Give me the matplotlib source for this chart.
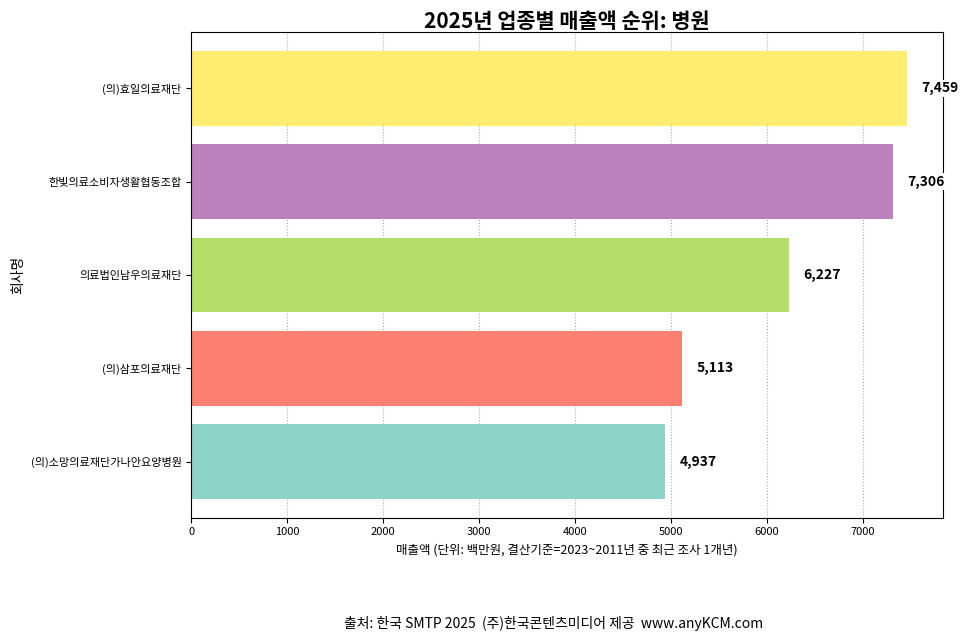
import matplotlib
matplotlib.use("Agg")
import matplotlib.pyplot as plt

plt.rcParams["font.family"] = "Noto Sans CJK KR"

companies = ["(의)소망의료재단가나안요양병원", "(의)삼포의료재단", "의료법인남우의료재단",
             "한빛의료소비자생활협동조합", "(의)효일의료재단"]
sales = [4937, 5113, 6227, 7306, 7459]
colors = ["#8DD3C7", "#FB8072", "#B3DE69", "#BC80BD", "#FFED6F"]
xticks = [0, 1000, 2000, 3000, 4000, 5000, 6000, 7000]

fig = plt.figure(figsize=(9.66, 6.44), dpi=100)
ax = fig.add_axes([0.198, 0.196, 0.778, 0.754])
ax.barh(companies, sales, color=colors, height=0.8, zorder=2)
for i, v in enumerate(sales):
    ax.text(v + 150, i, f"{v:,}", va="center", ha="left", fontsize=10, fontweight="bold",
            bbox=dict(facecolor="white", edgecolor="none", pad=1))
ax.set_xticks(xticks)
ax.set_xlim(0, 7830)
ax.set_ylim(-0.6, 4.6)
ax.grid(axis="x", linestyle=":", color="#aaaaaa", zorder=0)
ax.tick_params(labelsize=8)
ax.set_xlabel("매출액 (단위: 백만원, 결산기준=2023~2011년 중 최근 조사 1개년)", fontsize=9)
ax.set_ylabel("회사명", fontsize=10)
ax.set_title("2025년 업종별 매출액 순위: 병원", fontsize=15, fontweight="bold", pad=3)
fig.text(0.573, 0.025, "출처: 한국 SMTP 2025  (주)한국콘텐츠미디어 제공  www.anyKCM.com",
         ha="center", fontsize=10)
fig.savefig("out.png", dpi=100)
